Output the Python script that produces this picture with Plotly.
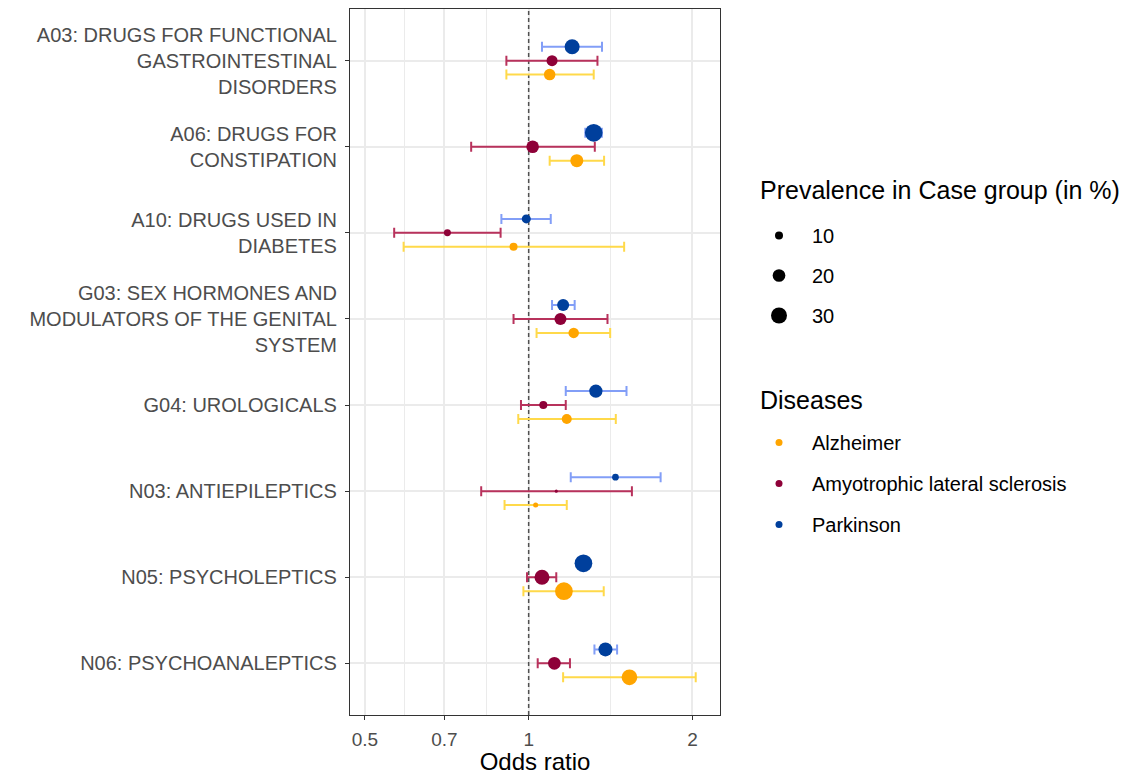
import plotly.graph_objects as go

categories = [
    "A03: DRUGS FOR FUNCTIONAL<br>GASTROINTESTINAL<br>DISORDERS",
    "A06: DRUGS FOR<br>CONSTIPATION",
    "A10: DRUGS USED IN<br>DIABETES",
    "G03: SEX HORMONES AND<br>MODULATORS OF THE GENITAL<br>SYSTEM",
    "G04: UROLOGICALS",
    "N03: ANTIEPILEPTICS",
    "N05: PSYCHOLEPTICS",
    "N06: PSYCHOANALEPTICS",
]

diseases = ["Alzheimer", "Amyotrophic lateral sclerosis", "Parkinson"]

alz_or = [1.093, 1.226, 0.938, 1.210, 1.175, 1.030, 1.161, 1.532]
alz_lo = [0.910, 1.093, 0.589, 1.034, 0.957, 0.903, 0.978, 1.157]
alz_hi = [1.317, 1.376, 1.498, 1.412, 1.446, 1.175, 1.374, 2.028]
alz_prev = [17.1, 20.9, 10.0, 14.8, 13.7, 6.0, 36.0, 29.0]

als_or = [1.104, 1.017, 0.709, 1.144, 1.064, 1.124, 1.058, 1.115]
als_lo = [0.910, 0.784, 0.566, 0.938, 0.968, 0.818, 0.993, 1.039]
als_hi = [1.338, 1.323, 0.888, 1.396, 1.170, 1.548, 1.124, 1.191]
als_prev = [15.9, 19.9, 8.4, 18.3, 10.0, 4.3, 26.8, 20.1]

pd_or = [1.202, 1.317, 0.990, 1.157, 1.329, 1.444, 1.261, 1.384]
pd_lo = [1.058, 1.271, 0.891, 1.104, 1.170, 1.195, 1.237, 1.321]
pd_hi = [1.364, 1.363, 1.098, 1.215, 1.513, 1.748, 1.286, 1.454]
pd_prev = [26.8, 36.0, 11.8, 18.3, 21.7, 8.0, 36.0, 23.7]

size_breaks = [10, 20, 30]
x_ticks = [0.5, 0.7, 1, 2]
x_minor = [0.5916, 0.8367, 1.4142]

point_colors = {"Alzheimer": "#FFA500", "Amyotrophic lateral sclerosis": "#8E0138", "Parkinson": "#003F9C"}
ci_colors = {"Alzheimer": "#FFD94A", "Amyotrophic lateral sclerosis": "#B8325C", "Parkinson": "#829EF7"}
dodge = {"Alzheimer": -0.162, "Amyotrophic lateral sclerosis": 0.0, "Parkinson": 0.162}

series = {
    "Alzheimer": (alz_or, alz_lo, alz_hi, alz_prev),
    "Amyotrophic lateral sclerosis": (als_or, als_lo, als_hi, als_prev),
    "Parkinson": (pd_or, pd_lo, pd_hi, pd_prev),
}

n = len(categories)
ypos = [n - 1 - i for i in range(n)]


def diam(p):
    return 3.1 * max(p - 3.33, 0.05) ** 0.5


FONT = "Liberation Sans, Arial, sans-serif"
fig = go.Figure()

# reference dashed line at OR = 1
fig.add_trace(go.Scatter(x=[1, 1], y=[-0.6, n - 0.4], mode="lines",
                         line=dict(color="#505050", width=1.5, dash="4px,3px"),
                         showlegend=False, hoverinfo="skip"))

# error bars first
for d in diseases:
    o, lo, hi, pv = series[d]
    fig.add_trace(go.Scatter(
        x=o, y=[y + dodge[d] for y in ypos], mode="markers",
        marker=dict(size=1, opacity=0),
        error_x=dict(type="data", symmetric=False,
                     array=[h - v for h, v in zip(hi, o)],
                     arrayminus=[v - l for v, l in zip(o, lo)],
                     color=ci_colors[d], thickness=2, width=5),
        showlegend=False, hoverinfo="skip"))

# points
for d in diseases:
    o, lo, hi, pv = series[d]
    fig.add_trace(go.Scatter(
        x=o, y=[y + dodge[d] for y in ypos], mode="markers",
        marker=dict(size=[diam(p) for p in pv], color=point_colors[d], opacity=1, line=dict(width=0)),
        name=d, showlegend=False))

# size legend
for i, s in enumerate(size_breaks):
    fig.add_trace(go.Scatter(x=[None], y=[None], mode="markers",
                             marker=dict(size=diam(s), color="black", opacity=1, line=dict(width=0)),
                             name=str(s), legend="legend", legendgroup="s%d" % i, showlegend=True))

# disease legend
for i, d in enumerate(diseases):
    fig.add_trace(go.Scatter(x=[None], y=[None], mode="markers",
                             marker=dict(size=7, color=point_colors[d], opacity=1, line=dict(width=0)),
                             name=d, legend="legend2", legendgroup="d%d" % i, showlegend=True))

W, H = 1134, 767
L, R, T, B = 342, 422, 1, 60
pw, ph = W - L - R, H - T - B


def px_x(sx):
    return (sx - 8 - L) / pw


def px_y(sy):
    return (H - B - (sy - 8)) / ph


fig.update_layout(
    width=W, height=H,
    margin=dict(l=L, r=R, t=T, b=B),
    paper_bgcolor="white", plot_bgcolor="white",
    font=dict(family=FONT, color="#1A1A1A"),
    xaxis=dict(type="log", range=[-0.3284, 0.3517],
               tickvals=x_ticks, ticktext=[str(t) for t in x_ticks],
               tickfont=dict(size=19, color="#4D4D4D"),
               ticks="outside", ticklen=4, tickcolor="#333333", tickwidth=1.2,
               ticklabelstandoff=3,
               showgrid=True, gridcolor="#EBEBEB", gridwidth=1.5,
               minor=dict(tickvals=x_minor, showgrid=True, gridcolor="#EBEBEB", gridwidth=0.8, ticks=""),
               showline=True, linecolor="#333333", linewidth=1.2, mirror=True,
               zeroline=False, automargin=False,
               title=dict(text="Odds ratio", font=dict(size=24, color="black"), standoff=7)),
    yaxis=dict(range=[-0.6, n - 0.4], tickvals=ypos, ticktext=categories,
               tickfont=dict(size=20, color="#4D4D4D"),
               ticks="outside", ticklen=4, tickcolor="#333333", tickwidth=1.2,
               ticklabelstandoff=4,
               showgrid=True, gridcolor="#EBEBEB", gridwidth=1.5,
               showline=True, linecolor="#333333", linewidth=1.2, mirror=True,
               zeroline=False, automargin=False),
    legend=dict(x=px_x(746), y=px_y(216), xanchor="left", yanchor="top", itemwidth=56,
                font=dict(size=20, color="black"), tracegroupgap=11, bgcolor="rgba(0,0,0,0)"),
    legend2=dict(x=px_x(746), y=px_y(423), xanchor="left", yanchor="top", itemwidth=56,
                 font=dict(size=20, color="black"), tracegroupgap=12, bgcolor="rgba(0,0,0,0)"),
    annotations=[
        dict(text="Prevalence in Case group (in %)", xref="paper", yref="paper",
             x=px_x(758), y=px_y(190), xanchor="left", yanchor="middle", showarrow=False,
             font=dict(size=25, color="black")),
        dict(text="Diseases", xref="paper", yref="paper",
             x=px_x(758), y=px_y(400), xanchor="left", yanchor="middle", showarrow=False,
             font=dict(size=25, color="black")),
    ],
)

fig.write_html("out.html")
